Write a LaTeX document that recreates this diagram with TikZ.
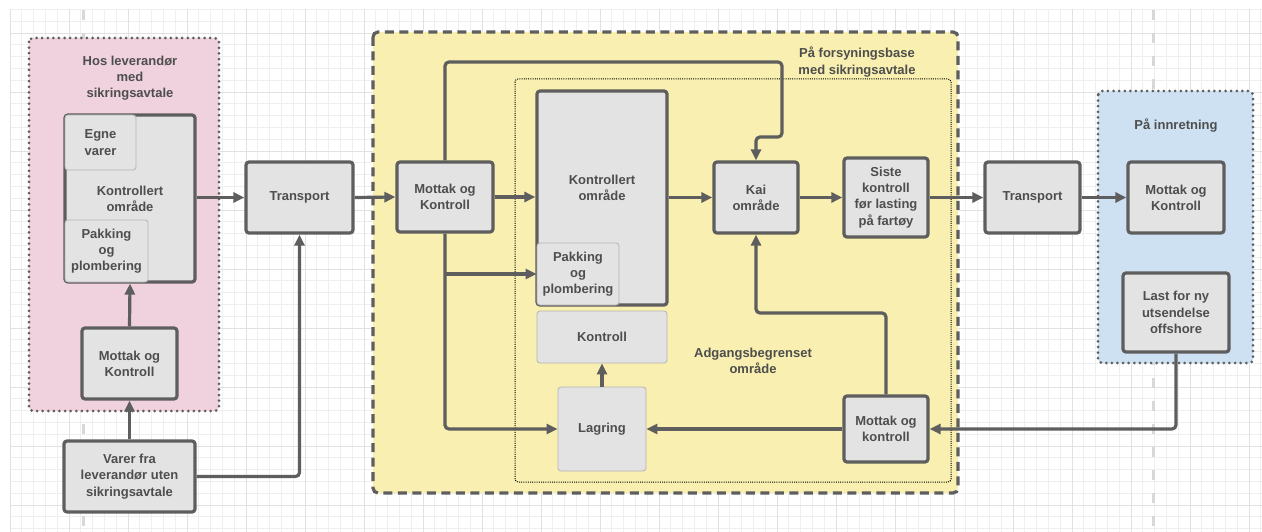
\documentclass[tikz,border=0pt]{standalone}
\usepackage{fontspec}
\setmainfont{Liberation Sans}
\usetikzlibrary{arrows.meta,positioning}
\definecolor{linegray}{HTML}{5E5E5E}
\definecolor{txtgray}{HTML}{4E4E4E}
\definecolor{thingray}{HTML}{B4B4B4}
\definecolor{boxgray}{HTML}{E3E3E3}
\definecolor{pinkbg}{HTML}{F0D2DE}
\definecolor{yellowbg}{HTML}{F8EFB0}
\definecolor{bluebg}{HTML}{CDE1F3}
\definecolor{gridminor}{HTML}{EFEFEF}
\definecolor{gridmajor}{HTML}{E1E1E1}
\definecolor{pagegray}{HTML}{D8D8D8}
\tikzset{
  box/.style={draw=linegray, line width=3.2pt, fill=boxgray, rounded corners=3pt, align=center, inner sep=0pt},
  subbox/.style={draw=thingray, line width=0.8pt, fill=boxgray, rounded corners=3pt, align=center, inner sep=0pt},
  flow/.style={draw=linegray, line width=3.2pt, rounded corners=4pt, -{Triangle[length=11pt,width=10pt]}},
  dotarea/.style={draw=linegray, line width=3pt, line cap=round, dash pattern=on 0pt off 5.6pt, rounded corners=4pt},
  dasharea/.style={draw=linegray, line width=3.2pt, dash pattern=on 9pt off 5.5pt, rounded corners=5pt, fill=yellowbg},
  innerarea/.style={draw=black, line width=1pt, dash pattern=on 1pt off 1.2pt, rounded corners=3pt},
  pagebreak/.style={draw=pagegray, line width=3pt, dash pattern=on 10pt off 13pt},
  label/.style={align=center, inner sep=0pt}
}
\begin{document}
\begin{tikzpicture}[x=1pt, y=-1pt, font=\fontsize{13}{16.2}\selectfont\bfseries, text=txtgray]
\useasboundingbox (0,0) rectangle (1262,532);
\fill[white] (0,0) rectangle (1262,532);
\foreach \i in {0,...,106} \draw[gridminor, line width=0.8pt] ({10+11.8*\i},9.4) -- ({10+11.8*\i},532);
\foreach \j in {0,...,44} \draw[gridminor, line width=0.8pt] (10,{9.4+11.8*\j}) -- (1262,{9.4+11.8*\j});
\foreach \i in {0,...,21} \draw[gridmajor, line width=0.9pt] ({10+59*\i},9.4) -- ({10+59*\i},532);
\foreach \j in {0,...,8} \draw[gridmajor, line width=0.9pt] (10,{33+59*\j}) -- (1262,{33+59*\j});
\draw[pagebreak] (83,10) -- (83,532);
\draw[pagebreak] (1153,10) -- (1153,532);

\draw[dotarea, fill=pinkbg] (29,38) rectangle (219,411);
\draw[dasharea] (373,32) rectangle (958,493);
\draw[innerarea] (515,79) rectangle (951,482);
\draw[dotarea, fill=bluebg] (1098,91) rectangle (1253,363);

\node[label] (lblsupplier) at (130,78) {Hos leverandør\\med\\sikringsavtale};
\node[label] (lblbase) at (857,62) {På forsyningsbase\\med sikringsavtale};
\node[label] (lblrestricted) at (753,361) {Adgangsbegrenset\\område};
\node[label] (lblrig) at (1176,126) {På innretning};

\node[box, minimum width=130pt, minimum height=167pt] (kontrA) at (130,198.5) {Kontrollert\\område};
\node[subbox, minimum width=71pt, minimum height=55pt] (egne) at (100.5,142.5) {Egne\\varer};
\node[subbox, minimum width=83pt, minimum height=62pt] (pakkA) at (106.5,251) {Pakking\\og\\plombering};
\node[box, minimum width=95pt, minimum height=71pt] (mottakA) at (129.5,363.5) {Mottak og\\Kontroll};
\node[box, minimum width=131pt, minimum height=71pt] (varer) at (129.5,476.5) {Varer fra\\leverandør uten\\sikringsavtale};
\node[box, minimum width=107pt, minimum height=71pt] (transA) at (299.5,197.5) {Transport};

\node[box, minimum width=96pt, minimum height=70pt] (mottakB) at (445,197) {Mottak og\\Kontroll};
\node[box, minimum width=130pt, minimum height=214pt] (kontrB) at (602,198) {Kontrollert\\område\\[4pt]};
\node[subbox, minimum width=82pt, minimum height=62pt] (pakkB) at (578,274) {Pakking\\og\\plombering};
\node[subbox, minimum width=130pt, minimum height=52pt] (kontroll) at (602,337) {Kontroll};
\node[subbox, minimum width=88pt, minimum height=84pt] (lagring) at (602,429) {Lagring};
\node[box, minimum width=84pt, minimum height=71pt] (kai) at (756,197.5) {Kai\\område};
\node[box, minimum width=84pt, minimum height=79pt] (siste) at (886,197.5) {Siste\\kontroll\\før lasting\\på fartøy};
\node[box, minimum width=84pt, minimum height=66pt] (mottakC) at (886,429) {Mottak og\\kontroll};

\node[box, minimum width=95pt, minimum height=71pt] (transB) at (1032.5,197.5) {Transport};
\node[box, minimum width=96pt, minimum height=71pt] (mottakD) at (1176,197.5) {Mottak og\\Kontroll};
\node[box, minimum width=106pt, minimum height=79pt] (last) at (1176,312.5) {Last for ny\\utsendelse\\offshore};

\coordinate (bendA) at (782,62);
\coordinate (bendB) at (782,137);
\coordinate (bendC) at (886,313);

\draw[flow] (kontrA.east |- transA) -- (transA.west);
\draw[flow] (mottakA.north) -- (kontrA.south);
\draw[flow] (varer.north) -- (mottakA.south);
\draw[flow] (varer.east) -| (transA.south);
\draw[flow] (transA.east) -- (mottakB.west);
\draw[flow] (mottakB.east) -- (mottakB.east -| kontrB.west);
\draw[flow] (mottakB.north) |- (bendA) -- (bendB) -| (kai.north);
\draw[flow] (mottakB.south) |- (lagring.west);
\draw[flow] (mottakB.south |- pakkB.west) -- (pakkB.west);
\draw[flow] (kontrB.east |- kai) -- (kai.west);
\draw[flow] (kai.east) -- (siste.west);
\draw[flow] (siste.east) -- (transB.west);
\draw[flow] (transB.east) -- (mottakD.west);
\draw[flow] (last.south) |- (mottakC.east);
\draw[flow] (mottakC.west) -- (lagring.east);
\draw[flow] (lagring.north) -- (kontroll.south);
\draw[flow] (mottakC.north) -- (bendC) -| (kai.south);
\end{tikzpicture}
\end{document}
